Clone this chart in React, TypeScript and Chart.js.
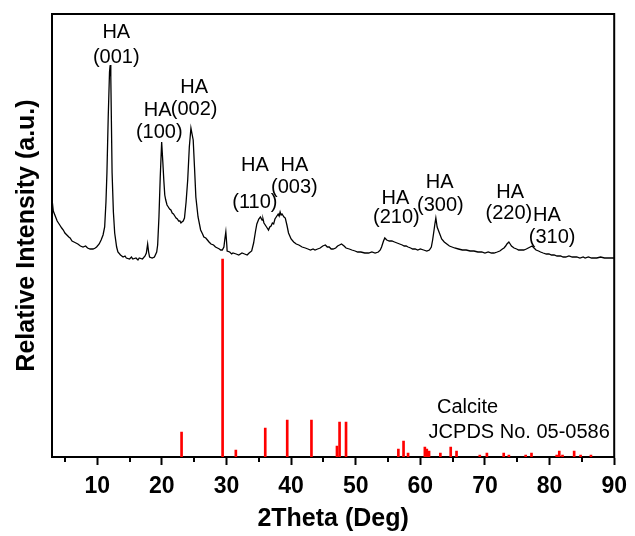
import { useEffect, useRef } from "react";
import { Chart, registerables } from "chart.js";

Chart.register(...registerables);

// XRD scan of the sample: [2theta (deg), intensity (a.u.)]
const xrdScan: [number, number][] = [
  [3.0, 258], [3.2, 246], [3.5, 241], [3.8, 236], [4.2, 232], [4.5, 229], [4.75, 227], [5.0, 224], [5.3, 222], [5.6, 220],
  [5.8, 219], [6.1, 216], [6.4, 215], [6.7, 214], [7.0, 213], [7.4, 211], [7.8, 210], [8.2, 211], [8.5, 209], [8.9, 208],
  [9.35, 208], [9.7, 209], [9.9, 210], [10.3, 213], [10.6, 217], [10.9, 222], [11.15, 230], [11.35, 255], [11.5, 284], [11.7, 340],
  [11.9, 385], [12.0, 392], [12.1, 380], [12.3, 284], [12.5, 245], [12.7, 224], [13.0, 210], [13.2, 205], [13.6, 202], [14.0, 200],
  [14.3, 201], [14.5, 199], [15.0, 198], [15.3, 200], [15.5, 198], [16.0, 199], [16.3, 197], [16.5, 199], [17.0, 198], [17.4, 201],
  [17.6, 204], [17.8, 213], [17.95, 205], [18.1, 200], [18.5, 199], [18.85, 200], [19.2, 205], [19.35, 212], [19.55, 240], [19.75, 280],
  [19.97, 315], [20.15, 295], [20.3, 277], [20.45, 262], [20.6, 257], [20.8, 252], [21.0, 250], [21.2, 248], [21.4, 247], [21.6, 244],
  [21.8, 243], [22.0, 241], [22.2, 239], [22.4, 238], [22.6, 236], [22.8, 236], [22.95, 234], [23.1, 235], [23.3, 236], [23.5, 239],
  [23.75, 255], [24.0, 277], [24.25, 310], [24.5, 329], [24.7, 322], [24.85, 317], [25.05, 290], [25.26, 260], [25.6, 240], [26.0, 227],
  [26.3, 223], [26.5, 220], [26.8, 219], [27.05, 217], [27.3, 215], [27.6, 213], [28.0, 212], [28.3, 210], [28.6, 209], [28.9, 208],
  [29.1, 207], [29.35, 207], [29.6, 210], [29.75, 218], [29.9, 225], [30.05, 212], [30.1, 206], [30.5, 205], [30.8, 203], [31.0, 204],
  [31.5, 203], [31.9, 202], [32.4, 204], [32.8, 203], [33.2, 202], [33.5, 204], [33.9, 206], [34.2, 214], [34.5, 226], [34.7, 233],
  [35.0, 238], [35.25, 240], [35.5, 237], [35.65, 238], [35.8, 234], [36.1, 231], [36.3, 229], [36.5, 227], [36.7, 230], [36.9, 231],
  [37.1, 234], [37.3, 233], [37.5, 238], [37.7, 240], [38.0, 243], [38.15, 241], [38.3, 245], [38.45, 242], [38.6, 243], [38.9, 240],
  [39.1, 239], [39.35, 232], [39.6, 224], [40.0, 218], [40.4, 215], [40.8, 213], [41.2, 212], [41.7, 210], [42.2, 209], [42.6, 208],
  [43.0, 207], [43.4, 208], [43.7, 207], [44.1, 208], [44.5, 209], [44.9, 211], [45.3, 212], [45.6, 210], [45.9, 210], [46.2, 208],
  [46.5, 208], [46.9, 209], [47.2, 211], [47.5, 212], [47.8, 213], [48.2, 211], [48.5, 209], [49.0, 208], [49.4, 207], [49.9, 206],
  [50.3, 205], [50.8, 205], [51.4, 204], [52.0, 204], [52.5, 205], [53.0, 204], [53.5, 205], [53.8, 207], [54.0, 210], [54.3, 216],
  [54.5, 219], [54.8, 217], [55.2, 216], [55.6, 216], [56.0, 215], [56.4, 214], [56.8, 213], [57.2, 212], [57.5, 211], [57.8, 211],
  [58.1, 210], [58.5, 209], [58.8, 208], [59.2, 208], [59.6, 207], [60.0, 208], [60.5, 207], [61.0, 206], [61.4, 207], [61.7, 210],
  [61.9, 217], [62.1, 226], [62.25, 233], [62.4, 239], [62.6, 230], [62.95, 224], [63.3, 218], [63.7, 215], [64.1, 213], [64.5, 211],
  [64.9, 210], [65.3, 209], [65.9, 208], [66.5, 207], [67.1, 207], [67.7, 206], [68.3, 206], [68.9, 205], [69.5, 205], [70.0, 204],
  [70.5, 205], [71.0, 204], [71.4, 204], [71.9, 205], [72.3, 206], [72.7, 208], [72.95, 209], [73.2, 211], [73.4, 213], [73.7, 215],
  [73.9, 213], [74.1, 211], [74.5, 209], [74.9, 208], [75.2, 207], [75.6, 207], [76.0, 207], [76.4, 208], [76.7, 209], [77.0, 210],
  [77.3, 211], [77.6, 209], [77.9, 207], [78.3, 206], [78.6, 205], [79.0, 204], [79.5, 203], [79.9, 203], [80.3, 202], [80.7, 202],
  [81.15, 201], [81.7, 201], [82.1, 200], [82.5, 200], [83.0, 201], [83.5, 200], [84.2, 200], [84.7, 199], [85.2, 200], [85.5, 199],
  [86.0, 200], [86.5, 199], [87.3, 199], [87.9, 200], [88.5, 199], [89.0, 199], [89.5, 199], [90.0, 199],
];

// Calcite reference pattern (JCPDS No. 05-0586)
const calciteAngles = [
  23.05, 29.4, 31.45, 36.0, 39.4, 43.15, 47.1, 47.5, 48.5, 56.6,
  57.4, 58.1, 60.7, 61.0, 61.35, 63.1, 64.7, 65.6, 69.2, 70.3,
  72.9, 73.7, 76.3, 77.2, 81.1, 81.5, 82.0, 83.8, 84.8, 86.4,
];
const calciteIntensity = [
  25, 198, 7, 29, 37, 37, 11, 35, 35, 8,
  16, 4, 10, 8, 6, 4, 10, 6, 2, 4,
  4, 2, 2, 4, 2, 6, 2, 6, 2, 2,
];

// Peak annotations
const peakLabelText = [
  "HA", "(001)", "HA", "(100)", "HA", "(002)", "HA", "(110)", "HA", "(003)",
  "HA", "(210)", "HA", "(300)", "HA", "(220)", "HA", "(310)",
];
const peakLabelX = [
  12.95, 12.95, 19.35, 19.6, 25.0, 25.0, 34.4, 34.4, 40.5, 40.5,
  56.15, 56.3, 63.0, 63.1, 73.9, 73.7, 79.6, 80.4,
];
const peakLabelY = [
  425, 400, 347, 325, 370, 348, 292, 255, 292, 270,
  259, 240, 275, 252, 265, 244, 242, 220,
];
const refLabelText = ["Calcite", "JCPDS No. 05-0586"];
const refLabelX = [67.3, 75.3];
const refLabelY = [50, 25];

const minorTickValues = [5, 15, 25, 35, 45, 55, 65, 75, 85];

const SANS = '"Liberation Sans", Arial, sans-serif';

const annotationPlugin = {
  id: "xrdAnnotations",
  afterDraw(chart: any) {
    const { ctx, chartArea, scales } = chart;
    const x = scales.x;
    const y = scales.y;
    ctx.save();
    // top and right frame lines
    ctx.strokeStyle = "#000";
    ctx.lineWidth = 2;
    ctx.beginPath();
    ctx.moveTo(chartArea.left - 1, chartArea.top);
    ctx.lineTo(chartArea.right, chartArea.top);
    ctx.lineTo(chartArea.right, chartArea.bottom + 1);
    ctx.stroke();
    // minor ticks
    ctx.lineWidth = 2;
    ctx.beginPath();
    minorTickValues.forEach((v) => {
      const px = Math.round(x.getPixelForValue(v));
      ctx.moveTo(px, chartArea.bottom);
      ctx.lineTo(px, chartArea.bottom + 5);
    });
    ctx.stroke();
    // peak labels
    ctx.fillStyle = "#000";
    ctx.textAlign = "center";
    ctx.textBaseline = "middle";
    ctx.font = `20px ${SANS}`;
    peakLabelText.forEach((t, i) => {
      ctx.fillText(t, x.getPixelForValue(peakLabelX[i]), y.getPixelForValue(peakLabelY[i]));
    });
    refLabelText.forEach((t, i) => {
      ctx.fillText(t, x.getPixelForValue(refLabelX[i]), y.getPixelForValue(refLabelY[i]));
    });
    ctx.restore();
  },
};

export default function App() {
  const canvasRef = useRef<HTMLCanvasElement | null>(null);

  useEffect(() => {
    document.body.style.margin = "0";
    const canvas = canvasRef.current;
    if (!canvas) return;
    const chart = new Chart(canvas, {
      type: "bar",
      data: {
        datasets: [
          {
            type: "line",
            label: "Sample",
            data: xrdScan.map(([a, b]) => ({ x: a, y: b })),
            borderColor: "#000",
            borderWidth: 1.3,
            pointRadius: 0,
            tension: 0,
            fill: false,
          } as any,
          {
            type: "bar",
            label: "Calcite",
            data: calciteAngles.map((a, i) => ({ x: a, y: calciteIntensity[i] })),
            backgroundColor: "#ff0000",
            borderWidth: 0,
            barThickness: 2,
            grouped: false,
          } as any,
        ],
      },
      options: {
        responsive: false,
        animation: false,
        layout: { padding: { top: 14, right: 16, left: 0, bottom: 0 } },
        plugins: {
          legend: { display: false },
          tooltip: { enabled: false },
          title: { display: false },
        },
        scales: {
          x: {
            type: "linear",
            min: 3,
            max: 90,
            offset: false,
            ticks: {
              stepSize: 10,
              includeBounds: false,
              autoSkip: false,
              maxRotation: 0,
              color: "#000",
              padding: 8,
              font: { family: SANS, size: 23, weight: "bold" },
            },
            grid: {
              offset: false,
              drawOnChartArea: false,
              drawTicks: true,
              tickLength: 8,
              tickWidth: 2,
              tickColor: "#000",
            },
            border: { display: true, color: "#000", width: 2 },
            title: {
              display: true,
              text: "2Theta (Deg)",
              color: "#000",
              font: { family: SANS, size: 25, weight: "bold" },
              padding: { top: 0, bottom: 2 },
            },
            afterFit: (s: any) => {
              s.height = 79;
            },
          },
          y: {
            type: "linear",
            min: 0,
            max: 443,
            ticks: { display: false },
            grid: { display: false, drawTicks: false },
            border: { display: true, color: "#000", width: 2 },
            title: {
              display: true,
              text: "Relative Intensity (a.u.)",
              color: "#000",
              font: { family: SANS, size: 25, weight: "bold" },
              padding: { top: 12, bottom: 0 },
            },
            afterFit: (s: any) => {
              s.width = 52;
            },
          },
        },
      } as any,
      plugins: [annotationPlugin],
    });
    return () => chart.destroy();
  }, []);

  return (
    <div style={{ width: 635, height: 536 }}>
      <canvas ref={canvasRef} width={635} height={536} style={{ display: "block" }} />
    </div>
  );
}
